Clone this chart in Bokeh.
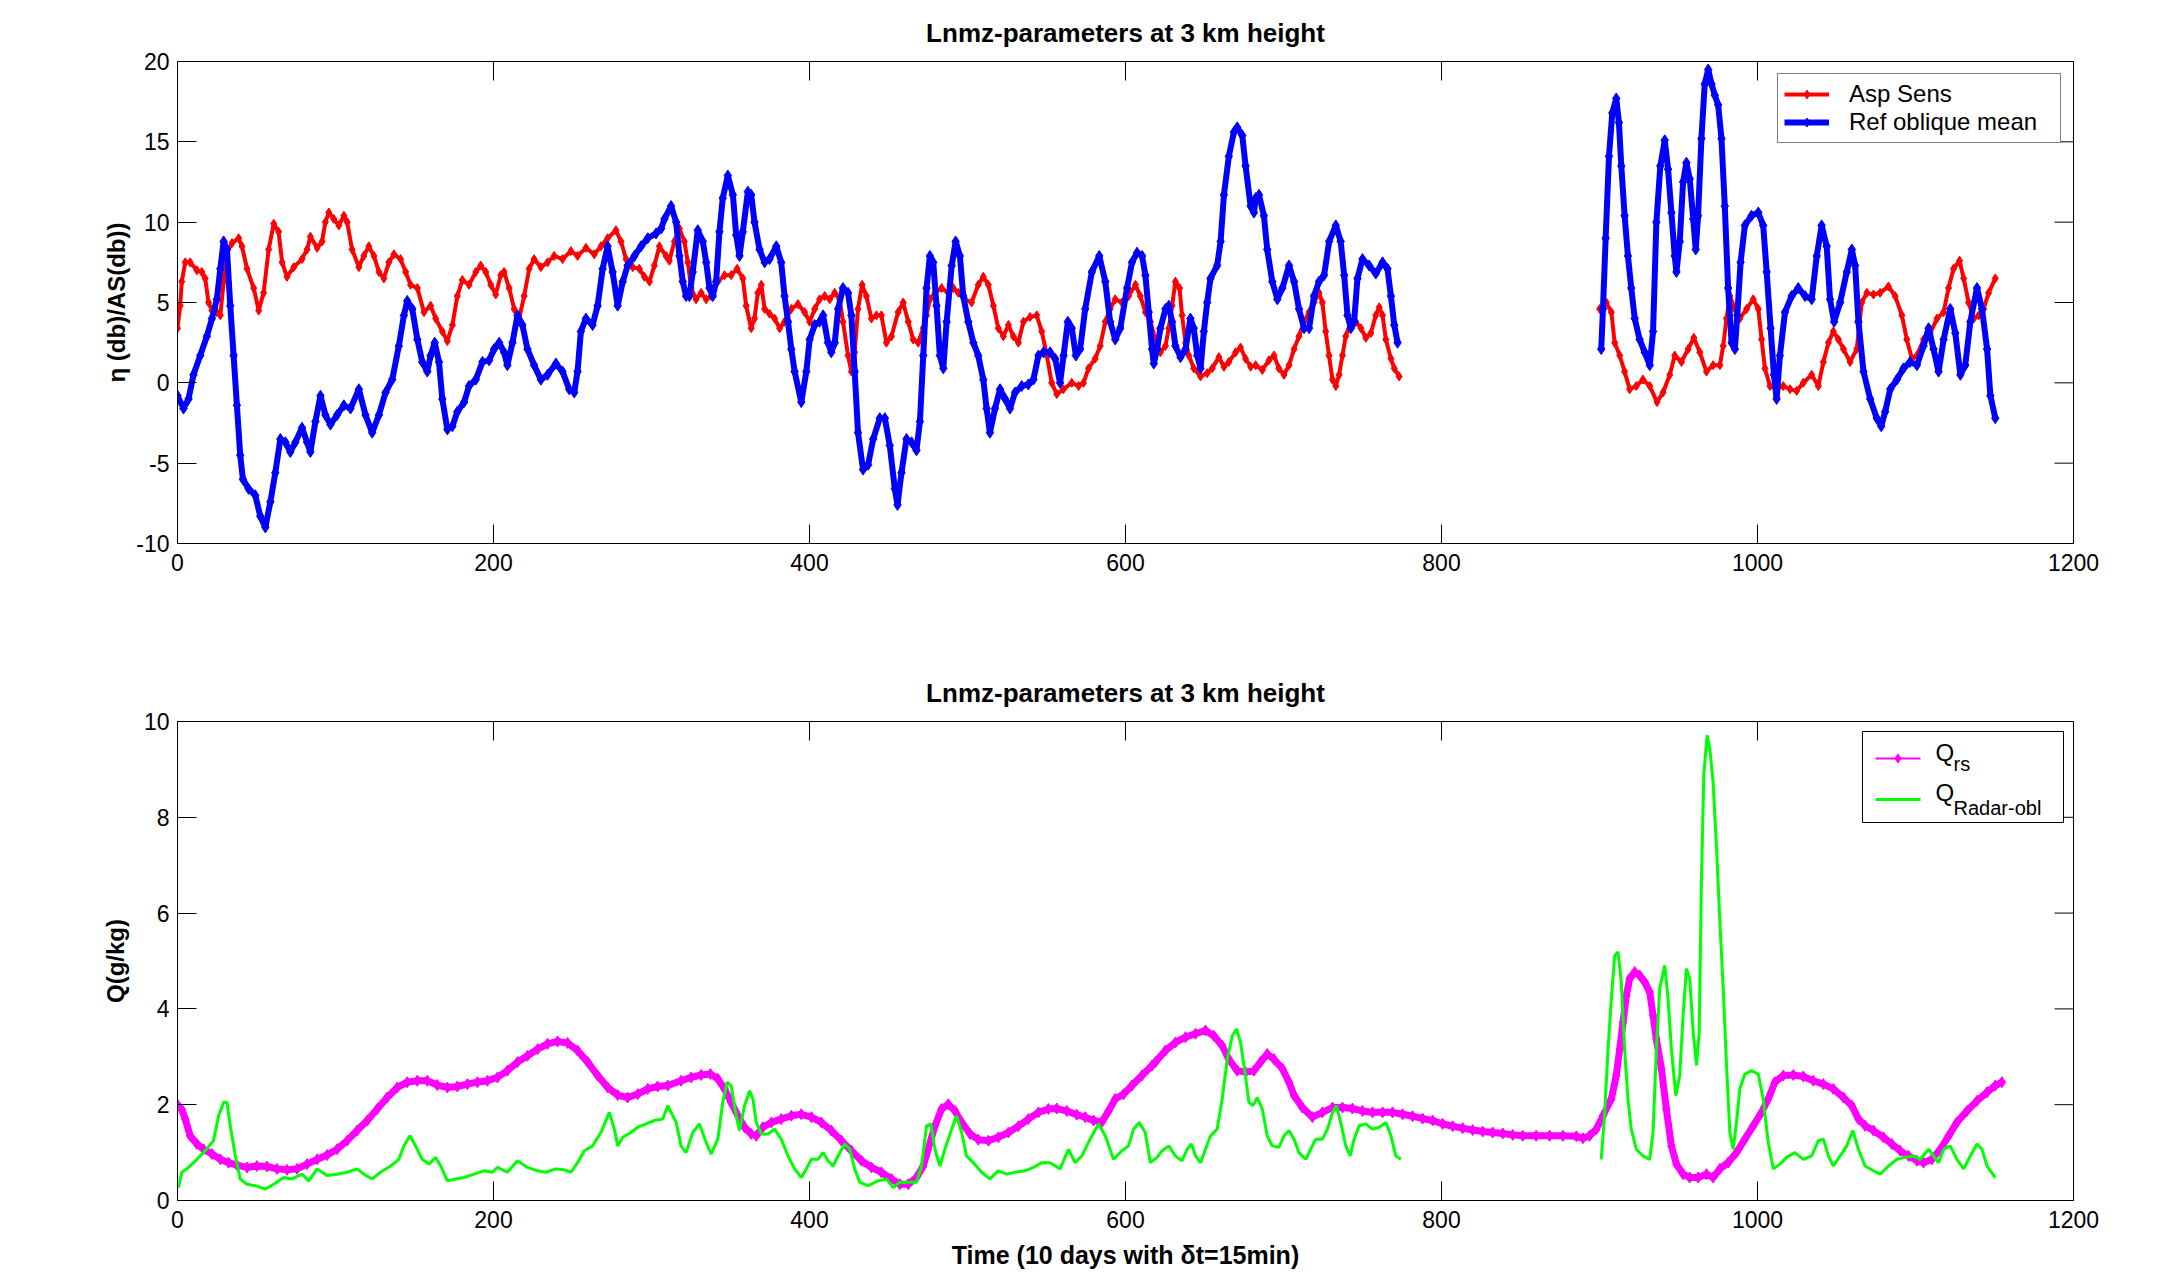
import math
from bokeh.plotting import figure
from bokeh.models import Range1d, FixedTicker, Legend, LegendItem, Label
from bokeh.layouts import column
from bokeh.embed import file_html
from bokeh.resources import INLINE

NaN = float("nan")

# ---------------- data ----------------
X_TICKS = [0, 200, 400, 600, 800, 1000, 1200]
Y1_TICKS = [-10, -5, 0, 5, 10, 15, 20]
Y2_TICKS = [0, 2, 4, 6, 8, 10]

# Asp Sens (red), two segments
asp_sens_a = [(0,3.4),(1.7,4.8),(2.7,6.3),(4.9,7.5),(8.0,7.5),(12.3,7.0),(15.4,6.9),(17.5,6.5),(19.7,5.0),(21.8,4.5),(24.9,4.4),(27.1,4.2),(29.2,6.3),(30.2,7.9),(34.5,8.7),(38.7,9.0),(40.8,8.5),(44.0,7.1),(48.2,5.9),(51.4,4.5),(54.5,5.6),(57.7,8.3),(60.9,9.9),(64.0,9.4),(66.2,7.5),(69.3,6.6),(73.6,7.2),(78.8,7.7),(82.0,8.3),(84.1,9.1),(88.4,8.4),(91.5,8.8),(93.6,10.0),(95.8,10.6),(98.9,10.2),(102.1,9.8),(105.3,10.4),(107.4,10.0),(110.5,8.3),(114.8,7.2),(117.9,7.9),(121.1,8.5),(124.3,7.9),(127.5,6.9),(130.6,6.5),(133.8,7.5),(137.0,8.0),(141.2,7.7),(144.4,6.9),(147.5,6.1),(151.8,5.9),(156.0,4.4),(160.2,4.8),(163.4,4.0),(167.6,3.2),(170.8,2.6),(174.0,3.6),(177.1,5.4),(180.3,6.4),(184.5,6.1),(188.8,6.9),(191.9,7.3),(195.1,6.9),(198.3,6.1),(201.4,5.5),(204.6,6.7),(206.7,6.9),(209.9,5.9),(213.1,4.6),(216.2,4.0),(219.4,5.4),(222.6,7.1),(225.7,7.7),(230.0,7.2),(234.2,7.5),(238.4,7.9),(243.7,7.7),(249.0,8.2),(253.2,7.9),(258.5,8.4),(263.8,8.0),(268.0,8.5),(272.2,9.0),(277.5,9.5),(280.7,8.8),(283.9,7.7),(288.1,7.2),(292.3,7.1),(295.5,6.6),(298.7,6.3),(301.8,7.3),(305.0,8.5),(309.2,7.9),(311.3,7.6),(314.5,8.8),(317.7,9.6),(320.8,8.8),(323.0,7.5),(325.1,5.9),(328.2,5.2),(331.4,5.6),(334.6,5.2),(337.7,5.4),(342.0,6.3),(346.2,6.7),(350.4,6.7),(354.2,7.1),(357.8,6.5),(359.9,4.8),(363.1,3.4),(365.2,4.0),(367.3,5.6),(369.5,6.1),(371.6,4.6),(374.7,4.3),(377.9,4.0),(381.1,3.4),(384.2,3.8),(388.5,4.6),(392.7,4.9),(396.9,4.4),(400.1,3.8),(403.3,4.6),(406.4,5.2),(409.6,5.4),(412.8,5.2),(415.9,5.6),(419.1,5.2),(421.2,3.8),(424.4,1.7),(426.5,0.7),(428.6,1.9),(430.7,4.6),(433.3,6.1),(436.0,5.4),(439.2,4.0),(442.4,4.2),(445.5,4.2),(448.7,2.5),(451.9,2.9),(456.1,4.4),(459.3,5.0),(462.5,3.8),(465.6,2.7),(468.8,2.5),(472.0,3.4),(474.1,4.2),(476.2,5.2),(479.4,5.6),(483.6,5.9),(487.8,5.6),(491.0,5.9),(494.2,5.6),(498.4,5.2),(502.6,5.0),(506.8,6.1),(510.0,6.6),(513.2,6.1),(516.4,4.8),(519.5,3.4),(522.7,2.9),(525.9,3.6),(529.0,2.9),(532.2,2.5),(535.4,3.8),(539.6,4.1),(543.8,4.2),(547.0,3.2),(550.2,1.7),(553.3,0.0),(556.5,-0.7),(560.7,-0.4),(566.0,0.0),(570.3,-0.2),(573.4,0.0),(576.6,0.9),(580.8,1.5),(584.0,2.3),(587.2,3.8),(590.3,4.6),(593.5,5.2),(597.7,5.0),(602.0,5.4),(606.3,6.1),(609.4,5.4),(612.6,4.4),(615.8,3.8),(618.9,2.7),(622.1,1.9),(625.3,2.3),(627.4,3.4),(629.5,4.8),(631.6,6.3),(634.2,5.9),(635.8,4.2),(638.0,2.5),(640.1,1.7),(643.2,0.9),(647.5,0.4),(651.7,0.6),(654.9,0.9),(659.1,1.6),(662.3,1.0),(665.4,1.3),(669.7,1.9),(672.8,2.2),(676.0,1.5),(679.2,1.0),(682.4,1.1),(686.6,0.8),(690.8,1.4),(694.0,1.7),(697.1,0.9),(700.3,0.5),(703.5,1.1),(706.7,2.1),(709.8,2.9),(713.0,3.8),(716.2,4.4),(719.3,5.0),(722.5,5.6),(724.6,5.0),(726.7,3.2),(728.8,1.7),(731.0,0.2),(733.1,-0.2),(735.2,0.5),(737.3,1.7),(739.4,2.9),(742.6,3.8),(745.8,3.8),(749.0,3.4),(752.1,2.8),(755.3,3.1),(758.4,4.2),(760.6,4.7),(762.7,4.2),(764.8,2.7),(768.0,1.5),(770.1,0.9),(773.2,0.4)]
asp_sens_b = [(900.1,4.6),(904.3,5.0),(907.5,4.4),(909.6,2.5),(912.8,1.7),(915.9,0.7),(919.1,-0.4),(923.3,-0.2),(927.5,0.2),(931.8,-0.2),(936.4,-1.2),(940.2,-0.6),(944.5,0.5),(947.6,1.7),(951.9,1.3),(956.1,2.1),(959.7,2.8),(963.5,1.9),(967.7,0.7),(971.9,1.1),(976.2,1.1),(978.3,2.3),(980.4,4.0),(982.5,5.4),(985.7,4.6),(988.8,4.0),(993.1,4.6),(997.3,5.2),(1000.5,4.6),(1002.6,2.7),(1004.7,0.9),(1007.9,-0.2),(1012.1,-0.4),(1016.3,-0.2),(1020.6,-0.4),(1024.8,-0.5),(1029.0,0.0),(1034.3,0.5),(1038.5,-0.2),(1041.7,1.3),(1044.9,2.5),(1048.0,3.2),(1051.2,2.7),(1054.4,2.1),(1058.6,1.3),(1062.8,2.1),(1066.0,5.0),(1069.2,5.6),(1073.4,5.5),(1077.6,5.6),(1082.9,6.0),(1087.1,5.4),(1091.4,4.2),(1094.5,2.7),(1097.7,1.5),(1100.9,1.7),(1105.1,2.7),(1109.3,3.1),(1113.6,4.0),(1117.8,4.4),(1120.9,5.9),(1124.1,7.1),(1127.9,7.6),(1130.5,6.5),(1133.6,5.0),(1136.8,4.0),(1140.0,4.2),(1143.1,4.6),(1146.3,5.6),(1150.5,6.5)]

# Ref oblique mean (blue), two segments
ref_oblique_a = [(0,-0.8),(3.8,-1.6),(7.0,-1.0),(10.1,0.5),(14.4,1.7),(18.6,2.9),(21.8,4.0),(24.9,5.2),(27.1,7.1),(29.2,8.8),(31.3,8.3),(33.4,4.8),(35.5,1.7),(37.6,-1.4),(39.7,-4.5),(41.4,-6.0),(45.0,-6.6),(49.2,-7.0),(52.4,-8.3),(55.6,-9.0),(58.8,-7.4),(61.9,-5.6),(65.1,-3.5),(68.3,-3.7),(71.4,-4.3),(74.6,-3.7),(78.8,-2.8),(82.0,-3.7),(84.1,-4.3),(87.3,-2.4),(90.5,-0.8),(93.6,-2.0),(96.8,-2.6),(101.0,-2.0),(105.3,-1.4),(109.5,-1.6),(114.8,-0.4),(119.0,-2.0),(123.2,-3.1),(127.5,-2.0),(131.7,-0.6),(135.9,0.2),(140.1,2.3),(143.3,4.2),(145.4,5.1),(148.6,4.6),(151.8,2.7),(154.9,1.3),(158.1,0.7),(160.2,1.7),(162.8,2.5),(165.5,1.3),(167.6,-1.0),(170.8,-2.9),(174.0,-2.7),(177.1,-1.8),(181.4,-1.2),(184.5,-0.2),(188.8,0.2),(193.0,1.3),(197.2,1.4),(200.4,2.1),(203.6,2.5),(206.7,1.9),(208.8,1.1),(212.0,2.5),(215.2,4.2),(218.3,3.6),(221.5,2.1),(225.7,1.1),(230.0,0.2),(234.2,0.5),(239.5,1.2),(243.7,0.7),(247.9,-0.4),(251.1,-0.6),(253.2,0.7),(255.3,3.2),(258.5,4.0),(262.7,3.6),(265.9,4.8),(269.1,7.1),(272.2,8.5),(275.4,6.9),(278.6,4.8),(281.8,6.3),(284.9,7.3),(289.2,7.9),(293.4,8.5),(297.6,9.0),(302.9,9.3),(306.1,9.6),(308.2,10.2),(312.4,11.0),(315.6,10.0),(317.7,7.9),(319.8,6.3),(321.9,5.4),(324.0,5.4),(326.1,6.9),(329.3,9.5),(332.5,8.8),(334.6,7.5),(336.7,5.9),(338.8,5.4),(340.9,6.3),(343.0,9.4),(345.1,11.5),(348.3,12.9),(351.5,11.7),(353.6,9.2),(355.7,7.9),(357.8,9.4),(361.0,11.9),(363.1,11.7),(365.2,10.0),(368.4,8.3),(371.6,7.5),(374.7,7.7),(379.0,8.5),(382.1,7.5),(384.2,5.4),(386.4,3.8),(388.5,2.1),(390.6,0.7),(394.8,-1.2),(398.0,0.7),(400.1,2.7),(403.3,3.6),(406.4,3.8),(408.6,4.2),(411.7,2.5),(413.8,1.9),(416.0,2.5),(418.1,4.6),(421.2,5.9),(424.4,5.6),(426.5,4.2),(428.6,0.7),(430.7,-3.1),(433.9,-5.4),(437.1,-5.1),(440.3,-3.5),(444.5,-2.2),(447.7,-2.2),(450.8,-3.9),(454.0,-6.6),(455.7,-7.6),(458.2,-5.6),(461.4,-3.5),(464.6,-3.7),(467.7,-4.2),(469.9,-2.4),(472.0,1.7),(474.1,5.9),(476.2,7.9),(478.3,7.5),(480.4,4.8),(482.5,1.7),(484.7,0.9),(486.8,3.8),(490.0,7.3),(492.5,8.8),(495.2,7.9),(497.3,5.4),(500.5,3.8),(503.7,2.5),(506.8,1.7),(510.0,0.2),(512.1,-1.6),(514.2,-3.1),(517.4,-1.6),(520.6,-0.4),(523.8,-1.0),(526.9,-1.6),(530.1,-0.6),(534.3,-0.2),(538.5,-0.1),(541.7,0.2),(544.9,1.7),(548.1,1.9),(552.3,1.9),(555.5,1.5),(558.6,0.0),(560.8,1.7),(563.5,3.8),(566.0,3.4),(568.6,1.7),(571.3,2.1),(574.5,4.6),(578.7,6.9),(583.4,7.9),(587.2,6.3),(590.3,3.8),(593.5,2.7),(596.7,3.4),(601.0,5.9),(604.1,7.5),(607.3,8.1),(610.5,7.9),(612.6,6.7),(614.7,4.4),(616.8,2.1),(617.9,1.2),(620.0,2.1),(622.1,3.4),(625.3,4.6),(627.4,4.8),(629.5,3.8),(631.6,2.3),(634.8,1.6),(638.0,2.1),(641.1,4.0),(643.2,3.4),(645.4,1.7),(647.5,0.9),(649.6,3.2),(651.7,5.0),(653.8,6.5),(658.0,7.3),(660.2,8.8),(662.3,11.7),(665.4,14.1),(668.6,15.6),(670.7,15.9),(673.9,15.4),(676.0,13.5),(679.2,11.0),(681.3,10.6),(682.4,11.5),(684.5,11.7),(687.6,10.4),(689.7,8.3),(692.9,6.3),(696.1,5.2),(699.3,5.9),(703.5,7.3),(706.7,6.3),(709.8,4.6),(713.0,3.4),(716.2,3.4),(719.3,5.4),(722.5,6.3),(725.7,6.7),(728.9,8.8),(733.1,9.8),(736.2,8.8),(738.4,6.7),(740.5,4.2),(742.6,3.4),(744.7,3.8),(746.8,6.5),(750.0,7.7),(754.2,7.3),(758.4,6.8),(762.7,7.5),(765.8,7.1),(768.0,5.4),(770.1,3.6),(772.2,2.5)]
ref_oblique_b = [(901.1,2.1),(902.2,4.6),(903.9,9.0),(906.0,14.1),(908.1,16.8),(910.6,17.7),(912.3,16.2),(913.8,13.5),(915.9,10.4),(918.0,7.9),(920.1,5.9),(922.3,4.0),(925.4,2.7),(928.6,1.9),(931.8,1.1),(933.9,3.2),(936.0,10.0),(938.5,13.5),(941.3,15.1),(943.4,13.3),(945.5,10.6),(947.6,7.9),(948.7,6.9),(950.8,8.8),(952.9,12.5),(955.0,13.7),(957.1,12.7),(959.3,10.2),(960.9,8.3),(962.4,10.4),(964.5,15.2),(966.6,18.6),(968.8,19.5),(970.9,18.6),(973.0,17.9),(975.1,17.3),(977.2,15.2),(979.3,11.0),(981.4,5.9),(983.6,2.5),(985.7,2.1),(987.2,4.2),(989.3,7.5),(992.0,9.8),(996.2,10.4),(1000.5,10.6),(1003.6,9.8),(1005.8,6.9),(1008.3,3.4),(1010.4,0.5),(1012.1,-1.0),(1014.2,1.7),(1017.4,4.4),(1021.6,5.4),(1025.8,5.9),(1030.1,5.4),(1034.3,5.2),(1037.5,7.9),(1040.6,9.8),(1043.8,8.5),(1045.9,5.2),(1048.5,3.8),(1052.3,5.0),(1056.5,6.9),(1059.7,8.3),(1061.8,7.3),(1063.9,3.8),(1067.1,0.7),(1071.3,-1.0),(1075.5,-2.2),(1078.3,-2.7),(1080.8,-1.8),(1084.0,-0.4),(1088.2,0.2),(1092.4,0.9),(1096.6,1.3),(1100.9,1.1),(1105.1,2.3),(1108.3,3.4),(1111.4,2.1),(1114.6,0.7),(1117.8,2.7),(1122.0,4.6),(1125.2,3.1),(1128.4,0.5),(1131.5,1.1),(1134.7,3.8),(1138.9,5.9),(1142.1,4.6),(1145.3,2.1),(1147.4,-0.8),(1150.5,-2.2)]

# Q_rs (magenta), continuous
q_rs = [(0,2.0),(2.7,1.9),(4.9,1.7),(8.0,1.35),(12.3,1.18),(16.5,1.07),(21.8,0.97),(27.1,0.86),(32.3,0.79),(37.6,0.74),(44.0,0.69),(50.3,0.72),(56.6,0.71),(63.0,0.66),(69.3,0.64),(75.7,0.66),(82.0,0.76),(88.4,0.86),(94.7,0.95),(101.0,1.07),(107.4,1.25),(113.7,1.46),(120.1,1.67),(126.4,1.91),(132.7,2.15),(139.1,2.36),(145.4,2.47),(151.8,2.50),(158.1,2.50),(164.4,2.41),(170.8,2.36),(177.1,2.38),(183.5,2.43),(189.8,2.47),(196.2,2.50),(202.5,2.57),(208.8,2.71),(215.2,2.89),(221.5,3.02),(227.9,3.16),(234.2,3.27),(240.5,3.32),(246.9,3.29),(253.2,3.13),(259.6,2.89),(265.9,2.61),(272.3,2.36),(278.6,2.20),(284.9,2.15),(291.3,2.22),(297.6,2.33),(303.9,2.38),(310.3,2.40),(318.7,2.50),(325.1,2.57),(331.4,2.62),(337.3,2.64),(342.0,2.54),(346.2,2.33),(350.4,2.05),(354.7,1.77),(358.9,1.53),(363.1,1.39),(366.3,1.35),(370.5,1.53),(375.8,1.63),(382.1,1.70),(388.5,1.77),(394.8,1.80),(401.2,1.74),(407.5,1.63),(413.8,1.46),(420.2,1.25),(426.5,1.04),(432.9,0.83),(439.2,0.69),(445.5,0.59),(451.9,0.45),(457.2,0.34),(462.5,0.34),(467.7,0.48),(472.0,0.72),(475.1,1.07),(479.4,1.56),(483.6,1.91),(487.8,2.01),(492.1,1.87),(496.3,1.63),(501.6,1.39),(506.8,1.27),(513.2,1.25),(519.5,1.32),(525.9,1.42),(532.2,1.55),(538.5,1.70),(544.9,1.84),(551.2,1.91),(556.5,1.92),(562.9,1.87),(569.2,1.79),(574.5,1.74),(579.8,1.67),(585.1,1.64),(589.3,1.87),(593.5,2.12),(598.8,2.22),(604.1,2.40),(610.4,2.61),(616.8,2.82),(619.0,2.89),(625.3,3.13),(631.6,3.30),(638.0,3.41),(644.3,3.48),(650.6,3.55),(655.9,3.44),(661.2,3.23),(665.4,2.95),(670.7,2.71),(676.0,2.68),(681.3,2.71),(685.5,2.89),(689.7,3.06),(694.0,2.95),(699.3,2.75),(703.5,2.47),(706.7,2.19),(711.9,1.94),(718.3,1.74),(724.6,1.84),(731.0,1.94),(737.3,1.94),(743.6,1.92),(750.0,1.87),(756.3,1.84),(762.7,1.84),(769.0,1.84),(775.4,1.80),(781.7,1.76),(788.0,1.71),(794.4,1.67),(800.7,1.60),(807.1,1.55),(813.4,1.51),(819.7,1.47),(826.1,1.44),(832.4,1.42),(838.8,1.40),(845.1,1.37),(851.4,1.35),(859.9,1.35),(868.4,1.35),(876.8,1.35),(885.3,1.34),(889.5,1.30),(893.7,1.35),(898.0,1.49),(902.2,1.77),(907.5,2.12),(910.6,2.61),(912.8,3.16),(914.9,3.72),(917.0,4.28),(919.1,4.63),(922.3,4.77),(925.4,4.70),(928.6,4.56),(931.8,4.35),(933.9,3.86),(936.0,3.37),(939.2,2.75),(942.3,1.91),(945.5,1.14),(948.7,0.76),(952.9,0.55),(957.1,0.48),(962.4,0.48),(967.7,0.55),(971.9,0.48),(976.2,0.66),(981.4,0.79),(986.7,1.00),(992.0,1.28),(997.3,1.56),(1002.6,1.84),(1006.8,2.12),(1011.0,2.47),(1016.3,2.61),(1022.7,2.62),(1029.0,2.59),(1035.3,2.50),(1041.7,2.43),(1048.0,2.33),(1054.4,2.15),(1059.7,1.98),(1063.9,1.70),(1068.1,1.56),(1073.4,1.46),(1079.7,1.32),(1085.0,1.18),(1090.3,1.04),(1095.6,0.93),(1100.9,0.83),(1105.1,0.79),(1110.4,0.86),(1115.7,1.07),(1121.0,1.35),(1126.2,1.63),(1132.6,1.87),(1138.9,2.08),(1145.3,2.26),(1150.5,2.40),(1154.7,2.47)]

# Q_Radar-obl (green), two segments
q_radar_a = [(0.6,0.27),(2.7,0.59),(7.0,0.69),(12.3,0.86),(17.5,1.04),(22.8,1.25),(26.0,1.77),(29.2,2.05),(31.3,2.05),(33.4,1.56),(36.6,0.93),(39.7,0.45),(44.0,0.34),(49.2,0.31),(55.6,0.24),(60.9,0.34),(67.2,0.48),(72.5,0.45),(78.8,0.55),(83.1,0.41),(88.4,0.66),(94.7,0.52),(101.0,0.55),(107.4,0.59),(113.7,0.66),(117.9,0.55),(123.2,0.45),(128.5,0.59),(134.9,0.72),(140.1,0.86),(143.3,1.14),(147.1,1.35),(150.7,1.14),(154.9,0.86),(159.2,0.76),(163.4,0.90),(166.6,0.72),(170.8,0.41),(176.1,0.45),(181.4,0.48),(187.7,0.55),(194.0,0.62),(199.3,0.59),(202.5,0.69),(208.8,0.59),(215.2,0.83),(221.5,0.69),(227.9,0.62),(233.1,0.59),(239.5,0.66),(244.8,0.64),(249.0,0.59),(253.2,0.79),(257.5,1.04),(262.7,1.14),(268.0,1.42),(273.3,1.84),(276.5,1.49),(278.6,1.14),(281.8,1.32),(287.0,1.42),(291.3,1.53),(296.6,1.60),(301.8,1.67),(307.1,1.70),(310.3,1.98),(315.6,1.63),(318.7,1.14),(321.9,1.00),(326.1,1.42),(330.3,1.60),(334.6,1.21),(337.7,0.97),(342.0,1.28),(345.1,2.05),(347.9,2.47),(350.4,2.40),(353.6,1.77),(355.7,1.46),(358.9,1.98),(362.1,2.29),(364.2,2.12),(366.3,1.63),(369.5,1.39),(373.7,1.39),(377.9,1.49),(382.1,1.28),(386.4,0.93),(390.6,0.66),(394.8,0.48),(398.0,0.66),(401.2,0.86),(405.4,0.86),(408.6,1.00),(411.7,0.83),(414.9,0.72),(418.1,0.93),(422.3,1.18),(425.5,1.07),(428.6,0.66),(431.8,0.38),(437.1,0.31),(443.4,0.41),(448.7,0.45),(453.0,0.27),(457.2,0.38),(462.5,0.38),(467.7,0.38),(470.9,0.72),(474.1,1.56),(476.8,1.60),(479.4,1.07),(482.5,0.72),(485.7,1.07),(490.0,1.49),(493.1,1.77),(496.3,1.42),(499.4,0.93),(503.7,0.79),(509.0,0.59),(514.2,0.45),(519.5,0.62),(524.8,0.55),(530.1,0.59),(536.4,0.62),(541.7,0.69),(547.0,0.79),(552.3,0.79),(558.6,0.66),(563.9,1.07),(568.1,0.79),(572.4,0.93),(577.6,1.28),(582.9,1.60),(587.2,1.35),(592.4,0.86),(597.7,1.04),(601.9,1.14),(605.1,1.49),(608.7,1.63),(612.5,1.42),(615.7,0.79),(620.0,0.90),(623.2,1.04),(627.4,1.14),(631.6,0.93),(635.8,0.83),(639.0,1.07),(641.8,1.18),(644.3,0.93),(647.5,0.79),(650.6,1.07),(653.8,1.35),(658.0,1.49),(661.2,2.12),(664.4,2.95),(667.6,3.44),(670.3,3.58),(672.8,3.30),(675.6,2.68),(678.1,2.05),(680.7,1.98),(683.4,2.15),(686.6,1.91),(689.7,1.35),(692.9,1.14),(697.1,1.11),(700.3,1.35),(703.5,1.46),(706.7,1.28),(709.8,1.00),(714.1,0.86),(717.2,1.07),(720.4,1.28),(724.6,1.28),(727.8,1.49),(731.0,1.84),(733.5,1.98),(736.2,1.63),(739.4,1.14),(742.2,0.93),(744.7,1.28),(747.9,1.56),(752.1,1.60),(756.3,1.49),(760.6,1.53),(764.8,1.63),(768.0,1.35),(771.1,0.93),(774.3,0.86)]
q_radar_b = [(901.1,0.86),(903.2,1.77),(905.4,3.16),(907.5,4.21),(909.6,5.11),(911.7,5.19),(913.8,4.56),(915.9,3.16),(918.0,2.12),(920.1,1.49),(923.3,1.07),(927.5,0.93),(931.8,0.86),(933.9,1.42),(936.0,3.16),(938.1,4.42),(941.3,4.91),(943.4,4.21),(945.5,3.16),(948.3,2.19),(950.8,2.61),(952.9,3.86),(955.0,4.84),(957.1,4.63),(959.3,3.51),(961.4,2.82),(963.1,3.51),(964.5,6.65),(966.0,8.88),(968.1,9.71),(969.8,9.44),(971.9,8.74),(974.1,7.34),(976.2,5.81),(978.3,4.42),(980.4,2.82),(982.5,1.42),(984.6,1.07),(986.7,1.63),(988.8,2.33),(992.0,2.64),(996.2,2.71),(1000.5,2.64),(1003.6,2.12),(1006.8,1.21),(1010.0,0.66),(1014.2,0.76),(1018.4,0.90),(1023.7,1.00),(1029.0,0.86),(1034.3,0.93),(1038.5,1.25),(1041.7,1.28),(1044.9,0.93),(1048.0,0.72),(1052.3,0.93),(1056.5,1.14),(1060.3,1.46),(1063.9,1.07),(1068.1,0.72),(1073.4,0.62),(1077.6,0.55),(1082.9,0.72),(1088.2,0.86),(1093.5,0.90),(1098.8,0.93),(1103.0,0.86),(1108.3,1.07),(1111.4,0.93),(1114.6,0.79),(1117.8,1.07),(1122.0,1.14),(1126.2,0.86),(1130.5,0.66),(1134.7,0.93),(1138.9,1.18),(1142.1,1.07),(1145.3,0.72),(1150.5,0.48)]

TITLE = "Lnmz-parameters at 3 km height"
Y1_LABEL = "\u03b7 (db)/AS(db))"
Y2_LABEL = "Q(g/kg)"
X_LABEL = "Time (10 days with \u03b4t=15min)"

# ---------------- layout constants ----------------
FONT = "Liberation Sans"
X_MIN, X_MAX = 0, 1200
W = 2151
BORDER_L, BORDER_R = 177, 78
FRAME_W = W - BORDER_L - BORDER_R
H1, H2 = 644, 634
TOP1, BOT1 = 61, 101
TOP2, BOT2 = 77, 78
FRAME_H2 = H2 - TOP2 - BOT2
TICK_LEN = 19


def xy(*segments):
    xs, ys = [], []
    for i, seg in enumerate(segments):
        if i:
            xs.append(NaN)
            ys.append(NaN)
        xs.extend(p[0] for p in seg)
        ys.extend(p[1] for p in seg)
    return xs, ys


def style_axis(ax, ticks, standoff):
    ax.ticker = FixedTicker(ticks=ticks)
    ax.major_tick_in = TICK_LEN
    ax.major_tick_out = 0
    ax.minor_tick_line_color = None
    ax.major_tick_line_color = "black"
    ax.major_tick_line_width = 1
    ax.axis_line_color = "black"
    ax.axis_line_width = 1
    ax.major_label_text_font = FONT
    ax.major_label_text_color = "black"
    ax.major_label_text_font_size = "23px"
    ax.major_label_standoff = standoff
    ax.major_label_overrides = {t: str(t) for t in ticks if t < 0}
    ax.axis_label_text_font = FONT
    ax.axis_label_text_font_size = "24px"
    ax.axis_label_text_font_style = "bold"
    ax.axis_label_text_color = "black"


def make_fig(height, top, bottom, y_min, y_max, yticks, ylabel, ylab_standoff, xlabel=None):
    p = figure(width=W, height=height, output_backend="svg", toolbar_location=None,
               x_range=Range1d(X_MIN, X_MAX), y_range=Range1d(y_min, y_max),
               min_border_left=BORDER_L, min_border_right=BORDER_R,
               min_border_top=top, min_border_bottom=bottom, title=TITLE)
    p.xgrid.visible = False
    p.ygrid.visible = False
    p.background_fill_color = "white"
    p.border_fill_color = "white"
    p.outline_line_color = "black"
    p.outline_line_width = 1
    p.title.align = "center"
    p.title.text_font = FONT
    p.title.text_font_size = "26px"
    p.title.text_font_style = "bold"
    p.title.text_color = "black"
    p.title.standoff = 27
    style_axis(p.xaxis[0], X_TICKS, 10)
    style_axis(p.yaxis[0], yticks, 8)
    p.yaxis[0].axis_label = ylabel
    p.yaxis[0].axis_label_standoff = ylab_standoff
    if xlabel:
        p.xaxis[0].axis_label = xlabel
        p.xaxis[0].axis_label_standoff = 10
        p.xaxis[0].axis_label_text_font_size = "25px"
    # mirrored inward ticks on the top and right edges of the box
    p.ray(x=X_TICKS, y=[y_max] * len(X_TICKS), length=TICK_LEN, length_units="screen",
          angle=-math.pi / 2, line_color="black", line_width=1)
    p.ray(x=[X_MAX] * len(yticks), y=yticks, length=TICK_LEN, length_units="screen",
          angle=math.pi, line_color="black", line_width=1)
    return p


# ---------------- top panel ----------------
p1 = make_fig(H1, TOP1, BOT1, -10, 20, Y1_TICKS, Y1_LABEL, 3)

rx, ry = xy(asp_sens_a, asp_sens_b)
bx, by = xy(ref_oblique_a, ref_oblique_b)

r_line = p1.line(rx, ry, line_color="#ff0000", line_width=4)
r_pts = p1.scatter(rx, ry, marker="diamond", size=9, color="#ff0000")
b_line = p1.line(bx, by, line_color="#0000ff", line_width=6)
b_pts = p1.scatter(bx, by, marker="diamond", size=11, color="#0000ff")

legend = Legend(items=[LegendItem(label="Asp Sens", renderers=[r_line, r_pts]),
                       LegendItem(label="Ref oblique mean", renderers=[b_line, b_pts])],
                location="top_right")
legend.border_line_color = "black"
legend.border_line_width = 1
legend.background_fill_color = "white"
legend.background_fill_alpha = 1
legend.label_text_font = FONT
legend.label_text_font_size = "24px"
legend.label_text_color = "black"
legend.glyph_width = 45
legend.glyph_height = 22
legend.label_standoff = 20
legend.label_width = 205
legend.padding = 6
legend.spacing = 0
legend.margin = 12
p1.add_layout(legend)

# ---------------- bottom panel ----------------
p2 = make_fig(H2, TOP2, BOT2, 0, 10, Y2_TICKS, Y2_LABEL, 12, X_LABEL)

mx, my = xy(q_rs)
gx, gy = xy(q_radar_a, q_radar_b)

p2.line(mx, my, line_color="#ff00ff", line_width=7)
p2.scatter(mx, my, marker="diamond", size=11, color="#ff00ff")
p2.line(gx, gy, line_color="#00ff00", line_width=3)

# hand-built legend (subscripted labels); positions are pixel offsets inside the frame
Y2_MIN, Y2_MAX = 0, 10


def fx(px):   # pixels from the frame's left edge -> data x
    return X_MIN + px / FRAME_W * (X_MAX - X_MIN)


def fy(px):   # pixels below the frame's top edge -> data y
    return Y2_MAX - px / FRAME_H2 * (Y2_MAX - Y2_MIN)


p2.quad(left=[fx(1685)], right=[fx(1886)], top=[fy(10)], bottom=[fy(101)],
        fill_color="white", line_color="black", line_width=1)
p2.line([fx(1698), fx(1743)], [fy(37), fy(37)], line_color="#ff00ff", line_width=2)
p2.scatter([fx(1720.5)], [fy(37)], marker="diamond", size=9, color="#ff00ff")
p2.line([fx(1698), fx(1743)], [fy(78), fy(78)], line_color="#00ff00", line_width=3)

for txt, x_px, y_px, size in [("Q", 1758, 31, "24px"), ("rs", 1776, 42, "20px"),
                              ("Q", 1758, 71, "24px"), ("Radar-obl", 1776, 86, "20px")]:
    p2.add_layout(Label(x=fx(x_px), y=fy(y_px), text=txt, text_font=FONT, text_font_size=size,
                        text_color="black", text_baseline="alphabetic", text_align="left"))

layout = column(p1, p2, spacing=0)
open("out.html", "w").write(file_html(layout, INLINE))
